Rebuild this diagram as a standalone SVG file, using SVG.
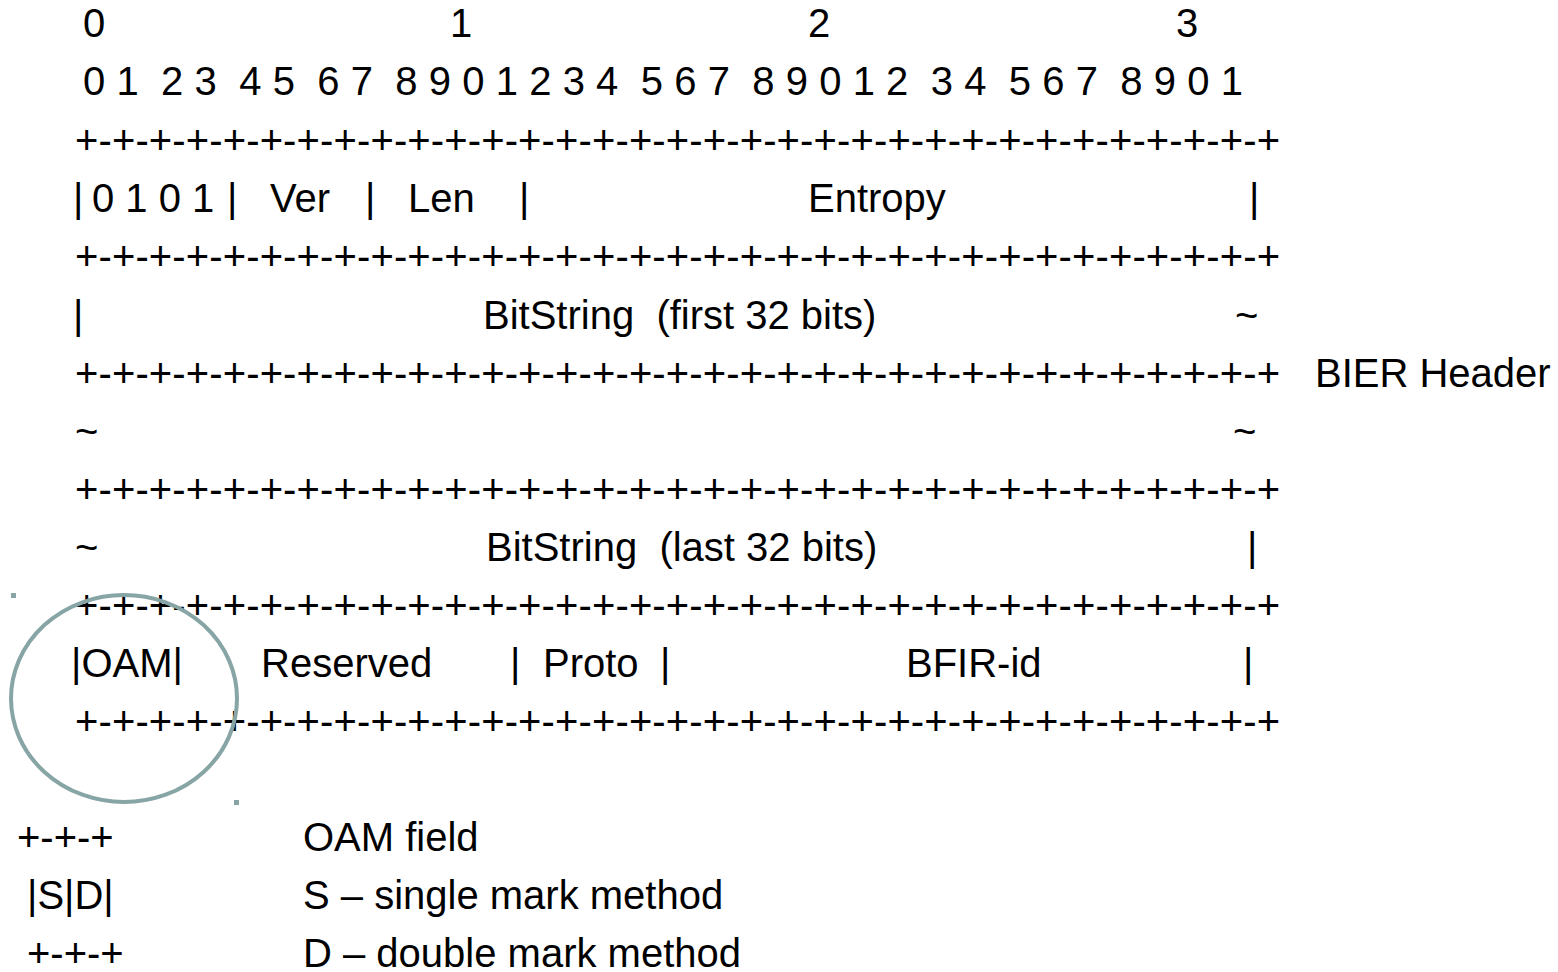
<svg xmlns="http://www.w3.org/2000/svg" width="1558" height="972" viewBox="0 0 1558 972">
<style>
text{font-family:"Liberation Sans",Arial,sans-serif;font-size:40px;fill:#000}
.pl{letter-spacing:0}
.mk{fill:#87a5a5}
</style>
<rect width="1558" height="972" fill="#fff"/>
<g id="bit-numbers">
<text x="83" y="37">0</text>
<text x="450" y="37">1</text>
<text x="808" y="37">2</text>
<text x="1176" y="37">3</text>
<text x="83" y="95" xml:space="preserve" textLength="1160">0 1  2 3  4 5  6 7  8 9 0 1 2 3 4  5 6 7  8 9 0 1 2  3 4  5 6 7  8 9 0 1</text>
</g>
<g id="separators">
<text class="pl" x="75" y="154" textLength="1205">+-+-+-+-+-+-+-+-+-+-+-+-+-+-+-+-+-+-+-+-+-+-+-+-+-+-+-+-+-+-+-+-+</text>
<text class="pl" x="75" y="270" textLength="1205">+-+-+-+-+-+-+-+-+-+-+-+-+-+-+-+-+-+-+-+-+-+-+-+-+-+-+-+-+-+-+-+-+</text>
<text class="pl" x="75" y="387" textLength="1205">+-+-+-+-+-+-+-+-+-+-+-+-+-+-+-+-+-+-+-+-+-+-+-+-+-+-+-+-+-+-+-+-+</text>
<text class="pl" x="75" y="503" textLength="1205">+-+-+-+-+-+-+-+-+-+-+-+-+-+-+-+-+-+-+-+-+-+-+-+-+-+-+-+-+-+-+-+-+</text>
<text class="pl" x="75" y="619" textLength="1205">+-+-+-+-+-+-+-+-+-+-+-+-+-+-+-+-+-+-+-+-+-+-+-+-+-+-+-+-+-+-+-+-+</text>
<text class="pl" x="75" y="735" textLength="1205">+-+-+-+-+-+-+-+-+-+-+-+-+-+-+-+-+-+-+-+-+-+-+-+-+-+-+-+-+-+-+-+-+</text>
</g>
<g id="row-nibble">
<text x="73" y="212">|</text>
<text x="92" y="212">0 1 0 1</text>
<text x="227" y="212">|</text>
<text x="270" y="212">Ver</text>
<text x="365" y="212">|</text>
<text x="408" y="212">Len</text>
<text x="519" y="212">|</text>
<text x="808" y="212">Entropy</text>
<text x="1249" y="212">|</text>
</g>
<g id="row-bitstring-first">
<text x="73" y="329">|</text>
<text x="483" y="329" xml:space="preserve">BitString  (first 32 bits)</text>
<text x="1235" y="329">~</text>
</g>
<g id="bier-header-label">
<text x="1315" y="387">BIER Header</text>
</g>
<g id="row-tilde">
<text x="75" y="445">~</text>
<text x="1233" y="445">~</text>
</g>
<g id="row-bitstring-last">
<text x="75" y="561">~</text>
<text x="486" y="561" xml:space="preserve">BitString  (last 32 bits)</text>
<text x="1247" y="561">|</text>
</g>
<g id="row-oam">
<text x="71" y="677">|OAM|</text>
<text x="261" y="677">Reserved</text>
<text x="510" y="677">|</text>
<text x="543" y="677">Proto</text>
<text x="660" y="677">|</text>
<text x="906" y="677">BFIR-id</text>
<text x="1243" y="677">|</text>
</g>
<g id="oam-highlight">
<ellipse cx="124" cy="698.5" rx="113" ry="103.5" fill="none" stroke="#87a5a5" stroke-width="4"/>
<rect class="mk" x="11" y="593" width="5" height="5"/>
<rect class="mk" x="234" y="800" width="5" height="5"/>
</g>
<g id="legend">
<text x="17" y="851">+-+-+</text>
<text x="27" y="909">|S|D|</text>
<text x="27" y="967">+-+-+</text>
<text x="303" y="851">OAM field</text>
<text x="303" y="909">S – single mark method</text>
<text x="303" y="967">D – double mark method</text>
</g>
</svg>
